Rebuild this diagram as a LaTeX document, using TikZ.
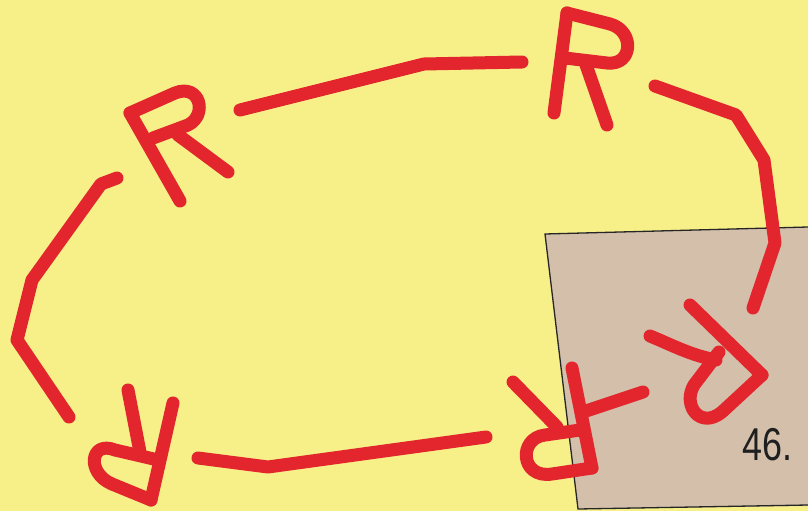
\documentclass[tikz,border=0pt]{standalone}
\usepackage{fontspec}
\newfontfamily\labelfont{Liberation Sans}
\definecolor{mapyellow}{RGB}{247,240,137}
\definecolor{plotbrown}{RGB}{211,191,170}
\definecolor{markred}{RGB}{227,38,45}
\begin{document}
	\begin{tikzpicture}[x=1pt, y=-1pt,
		redline/.style={draw=markred, line width=13pt, line cap=round, line join=round},
		plotedge/.style={draw=black!85, line width=1.3pt}]
		\fill[mapyellow] (0,0) rectangle (808,511);
		\useasboundingbox (0,0) rectangle (808,511);
		\fill[plotbrown] (545,234) -- (808,227) -- (808,506) -- (578,509) -- cycle;
		\draw[plotedge] (808,227) -- (545,234) -- (578,509) -- (808,505);
		\node[anchor=base west, inner sep=0pt, text=black!88, xscale=0.78] (plotno) at (742,460) {\labelfont\fontsize{46}{46}\selectfont 46.};
		\draw[redline] (130,113) -- (180,201);
		\draw[redline] (130,113) -- (175,93) .. controls (200,83) and (208,115) .. (188,125) -- (153,138);
		\draw[redline] (178,135) -- (228,172);
		\draw[redline] (567,13) -- (554,113);
		\draw[redline] (567,13) -- (610,24) .. controls (635,31) and (633,66) .. (607,63) -- (565,58);
		\draw[redline] (585,62) -- (607,125);
		\draw[redline] (173,403) -- (151,500);
		\draw[redline] (151,500) -- (112,484) .. controls (86,473) and (90,440) .. (115,450) -- (158,460);
		\draw[redline] (128,390) -- (140,452);
		\draw[redline] (572,368) -- (592,468);
		\draw[redline] (592,468) -- (552,474) .. controls (520,479) and (518,438) .. (545,435) -- (580,430);
		\draw[redline] (513,382) -- (557,427);
		\draw[redline] (690,305) -- (762,375);
		\draw[redline] (762,375) -- (722,412) .. controls (700,430) and (682,405) .. (694,385) -- (719,352);
		\draw[redline] (650,336) .. controls (672,345) and (690,355) .. (716,360);
		\draw[redline] (240,110) -- (424,64) -- (522,62);
		\draw[redline] (655,86) -- (736,115) -- (764,160) -- (775,243) -- (753,308);
		\draw[redline] (117,178) -- (101,184) -- (32,280) -- (17,340) -- (69,417);
		\draw[redline] (198,458) -- (268,467) -- (486,437);
		\draw[redline] (583,412) -- (643,392);
	\end{tikzpicture}
\end{document}
